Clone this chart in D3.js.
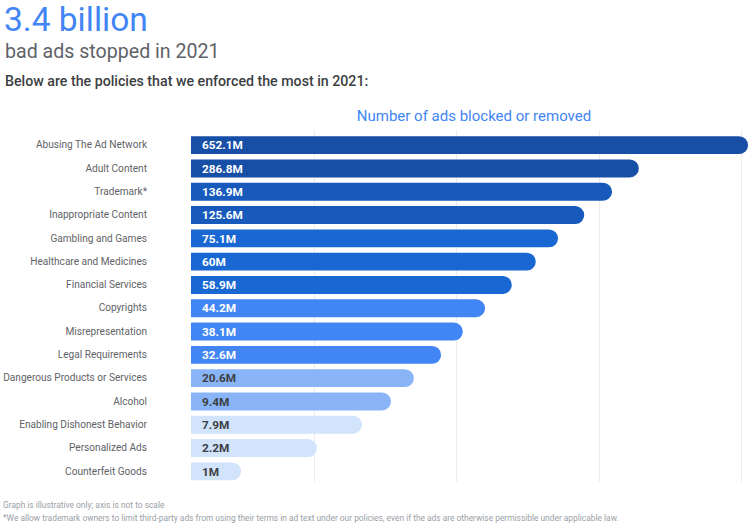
<!DOCTYPE html>
<html>
<head>
<meta charset="utf-8">
<script src="https://cdn.jsdelivr.net/npm/d3@7"></script>
<style>
  html, body { margin: 0; padding: 0; background: #fff; }
  svg { display: block; font-family: Roboto, "Open Sans", sans-serif; }
</style>
</head>
<body>
<svg id="chart" width="750" height="531"></svg>
<script>
// ---- data ----
const categories = [
  "Abusing The Ad Network", "Adult Content", "Trademark*", "Inappropriate Content",
  "Gambling and Games", "Healthcare and Medicines", "Financial Services", "Copyrights",
  "Misrepresentation", "Legal Requirements", "Dangerous Products or Services", "Alcohol",
  "Enabling Dishonest Behavior", "Personalized Ads", "Counterfeit Goods"
];
const valueLabels = ["652.1M","286.8M","136.9M","125.6M","75.1M","60M","58.9M","44.2M",
  "38.1M","32.6M","20.6M","9.4M","7.9M","2.2M","1M"];
const valuesMillions = [652.1, 286.8, 136.9, 125.6, 75.1, 60, 58.9, 44.2, 38.1, 32.6, 20.6, 9.4, 7.9, 2.2, 1];
// Graph is illustrative only (axis not to scale): bar length as % of the longest bar
const illustrativeLength = [100, 80.4, 75.6, 70.6, 65.9, 61.9, 57.6, 52.8, 48.8, 44.9, 40.0, 35.9, 30.7, 22.6, 9.0];
// colour tier per bar
const tier = [0, 0, 1, 1, 2, 2, 2, 3, 3, 3, 4, 4, 5, 5, 5];
const tierColors = ["#174ea6", "#185abc", "#1967d2", "#4285f4", "#8ab4f8", "#d2e3fc"];
const tierText = ["#ffffff", "#ffffff", "#ffffff", "#ffffff", "#3c4043", "#3c4043"];

const data = categories.map((c, i) => ({
  cat: c, label: valueLabels[i], value: valuesMillions[i], len: illustrativeLength[i], tier: tier[i]
}));

const svg = d3.select("#chart");

// ---- titles ----
svg.append("text").attr("x", 4).attr("y", 31).attr("fill", "#4285f4")
  .attr("font-size", 33.5).text("3.4 billion");
svg.append("text").attr("x", 5).attr("y", 58).attr("fill", "#5f6368")
  .attr("font-size", 19.6).text("bad ads stopped in 2021");
svg.append("text").attr("x", 5).attr("y", 86).attr("fill", "#3c4043")
  .attr("font-size", 14.2).attr("font-weight", 500)
  .text("Below are the policies that we enforced the most in 2021:");

// ---- scales ----
const x0 = 191;
const x = d3.scaleLinear().domain([0, 100]).range([x0, 748]);
const y = d3.scaleBand().domain(categories).range([133.5, 483]).paddingInner(0.23).paddingOuter(0.115);
const grid = d3.scaleLinear().domain([0, 4]).range([171, 741]);

// axis title
svg.append("text").attr("x", 474).attr("y", 121).attr("text-anchor", "middle")
  .attr("fill", "#4285f4").attr("font-size", 15).text("Number of ads blocked or removed");

// gridlines
svg.append("g").selectAll("line").data([1, 2, 3, 4]).join("line")
  .attr("x1", d => Math.round(grid(d)) + 0.5).attr("x2", d => Math.round(grid(d)) + 0.5)
  .attr("y1", 130).attr("y2", 482)
  .attr("stroke", "#ececec").attr("stroke-width", 1);

// bars: square left end, rounded right end
const bh = y.bandwidth();
function barPath(d) {
  const x1 = x(d.len), top = y(d.cat), r = bh / 2;
  return `M${x0},${top}H${x1 - r}A${r},${r} 0 0 1 ${x1 - r},${top + bh}H${x0}Z`;
}
svg.append("g").selectAll("path").data(data).join("path")
  .attr("d", barPath)
  .attr("fill", d => tierColors[d.tier]);

// value labels
svg.append("g").selectAll("text").data(data).join("text")
  .attr("x", x0 + 11).attr("y", d => y(d.cat) + bh / 2)
  .attr("dy", "0.36em")
  .attr("fill", d => tierText[d.tier])
  .attr("font-size", 11.8).attr("font-weight", 700)
  .text(d => d.label);

// category labels
const yAxis = d3.axisLeft(y).tickSize(0).tickPadding(0);
const ga = svg.append("g").attr("transform", "translate(147,0)").call(yAxis);
ga.select(".domain").remove();
ga.selectAll("text").attr("fill", "#5f6368").attr("font-size", 10.1)
  .attr("font-family", "Roboto, 'Open Sans', sans-serif");

// footnotes
svg.append("text").attr("x", 3).attr("y", 508).attr("fill", "#9aa0a6").attr("font-size", 8.4)
  .text("Graph is illustrative only; axis is not to scale");
svg.append("text").attr("x", 3).attr("y", 521).attr("fill", "#9aa0a6").attr("font-size", 8.4)
  .text("*We allow trademark owners to limit third-party ads from using their terms in ad text under our policies, even if the ads are otherwise permissible under applicable law.");
</script>
</body>
</html>
